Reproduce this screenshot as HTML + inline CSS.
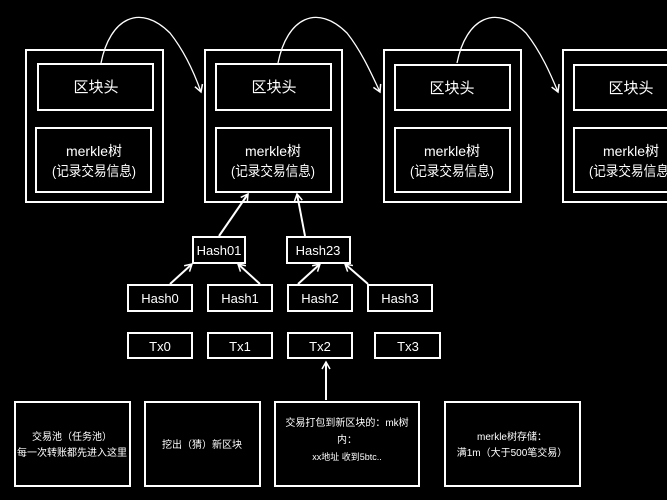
<!DOCTYPE html>
<html><head><meta charset="utf-8"><style>
html,body{margin:0;padding:0;background:#000;}
svg{display:block;}
text{fill:#fff;font-family:"Liberation Sans","Noto Sans CJK SC",sans-serif;text-anchor:middle;}
</style></head><body>
<svg width="667" height="500" viewBox="0 0 667 500" xmlns="http://www.w3.org/2000/svg">
<defs><marker id="a" markerWidth="10" markerHeight="10" refX="8" refY="5" orient="auto" markerUnits="userSpaceOnUse"><path d="M1,1 L8,5 L1,9" fill="none" stroke="#fff" stroke-width="1.5"/></marker></defs>
<rect width="667" height="500" fill="#000"/>
<g fill="none" stroke="#fff" stroke-width="2">
<rect x="26" y="50" width="137" height="152"/><rect x="38" y="64" width="115" height="46"/><rect x="36" y="128" width="115" height="64"/>
<rect x="205" y="50" width="137" height="152"/><rect x="216" y="64" width="115" height="46"/><rect x="216" y="128" width="115" height="64"/>
<rect x="384" y="50" width="137" height="152"/><rect x="395" y="65" width="115" height="45"/><rect x="395" y="128" width="115" height="64"/>
<rect x="563" y="50" width="137" height="152"/><rect x="574" y="65" width="115" height="45"/><rect x="574" y="128" width="115" height="64"/>
</g>
<g fill="none" stroke="#fff" stroke-width="1.3" marker-end="url(#a)">
<path d="M101,63 C110,18 140,3 170,33 C185,52 195,75 201,92"/>
<path d="M278,63 C287,18 317,3 347,33 C362,52 372,75 380,92"/>
<path d="M457,63 C466,18 496,3 526,33 C541,52 551,75 558,92"/>
</g>
<g font-size="15"><text x="96" y="92">区块头</text><text x="274" y="92">区块头</text><text x="452" y="93">区块头</text><text x="631" y="93">区块头</text></g>
<g font-size="14"><text x="94" y="156">merkle树</text><text x="94" y="176" textLength="84" lengthAdjust="spacingAndGlyphs">(记录交易信息)</text>
<text x="273" y="156">merkle树</text><text x="273" y="176" textLength="84" lengthAdjust="spacingAndGlyphs">(记录交易信息)</text>
<text x="452" y="156">merkle树</text><text x="452" y="176" textLength="84" lengthAdjust="spacingAndGlyphs">(记录交易信息)</text>
<text x="631" y="156">merkle树</text><text x="631" y="176" textLength="84" lengthAdjust="spacingAndGlyphs">(记录交易信息)</text></g>
<g fill="none" stroke="#fff" stroke-width="2">
<rect x="193" y="237" width="52" height="26"/><rect x="287" y="237" width="63" height="26"/>
<rect x="128" y="285" width="64" height="26"/><rect x="208" y="285" width="64" height="26"/><rect x="288" y="285" width="64" height="26"/><rect x="368" y="285" width="64" height="26"/>
<rect x="128" y="333" width="64" height="25"/><rect x="208" y="333" width="64" height="25"/><rect x="288" y="333" width="64" height="25"/><rect x="375" y="333" width="65" height="25"/>
<rect x="15" y="402" width="115" height="84"/><rect x="145" y="402" width="115" height="84"/><rect x="275" y="402" width="144" height="84"/><rect x="445" y="402" width="135" height="84"/>
</g>
<g fill="none" stroke="#fff" stroke-width="2" marker-end="url(#a)">
<path d="M219,236 L248,194"/><path d="M305,236 L297,194"/>
<path d="M170,284 L192,264"/><path d="M260,284 L238,264"/><path d="M298,284 L320,264"/><path d="M368,284 L345,264"/>
<path d="M326,400 L326,362"/>
</g>
<g font-size="13"><text x="219" y="255">Hash01</text><text x="318" y="255">Hash23</text>
<text x="160" y="303">Hash0</text><text x="240" y="303">Hash1</text><text x="320" y="303">Hash2</text><text x="400" y="303">Hash3</text>
<text x="160" y="351">Tx0</text><text x="240" y="351">Tx1</text><text x="320" y="351">Tx2</text><text x="408" y="351">Tx3</text></g>
<g font-size="10"><text x="72" y="440">交易池（任务池）</text><text x="72" y="456">每一次转账都先进入这里</text>
<text x="202" y="448">挖出（猜）新区块</text>
<text x="347" y="426">交易打包到新区块的：mk树</text><text x="347" y="443">内：</text><text x="347" y="460" font-size="9">xx地址 收到5btc..</text>
<text x="512" y="440">merkle树存储：</text><text x="512" y="456">满1m（大于500笔交易）</text></g>
</svg>
</body></html>
